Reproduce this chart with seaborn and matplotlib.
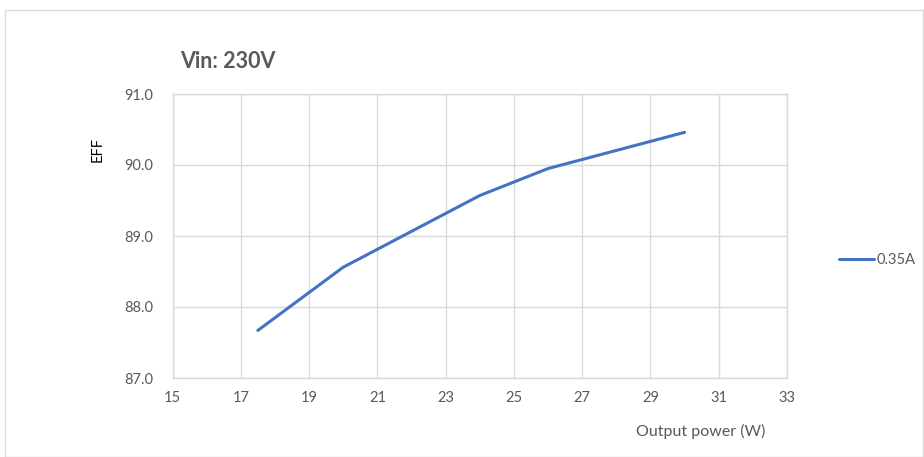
import matplotlib
matplotlib.use("Agg")
import matplotlib.pyplot as plt
import seaborn as sns
import pandas as pd
from matplotlib.patches import Rectangle

# -------------------------------
# Data
# -------------------------------
power_w = [17.5, 20.0, 24.0, 26.0, 30.0]
eff = [87.67, 88.56, 89.57, 89.95, 90.46]
series_name = "0.35A"

x_ticks = [15, 17, 19, 21, 23, 25, 27, 29, 31, 33]
y_ticks = [87.0, 88.0, 89.0, 90.0, 91.0]

data = pd.DataFrame({"power": power_w, "eff": eff})

# -------------------------------
# Style
# -------------------------------
sns.set_theme(style="whitegrid")
plt.rcParams["font.family"] = ["Lato", "DejaVu Sans"]

text_col = "#595959"
grid_col = "#D9D9D9"
line_col = "#4472C4"

W, H = 924, 457
fig = plt.figure(figsize=(W / 100, H / 100), dpi=100)
fig.patch.set_facecolor("white")

# outer chart border
fig.patches.append(Rectangle((5 / W, 0.5 / H), (W - 6) / W, (H - 10) / H,
                             transform=fig.transFigure, fill=False,
                             edgecolor=grid_col, linewidth=1))

ax = fig.add_axes([172.5 / W, 1 - 378 / H, (787 - 172.5) / W, (378 - 94) / H])

sns.lineplot(data=data, x="power", y="eff", ax=ax, color=line_col,
             linewidth=2.2, label=series_name)

ax.set_xlim(15, 33)
ax.set_ylim(87, 91)
ax.set_xticks(x_ticks)
ax.set_yticks(y_ticks)
ax.set_yticklabels([f"{v:.1f}" for v in y_ticks])
ax.set_xlabel("")
ax.set_ylabel("")
ax.grid(True, color=grid_col, linewidth=1)
for s in ax.spines.values():
    s.set_color(grid_col)
    s.set_linewidth(1)
ax.tick_params(axis="both", length=0, labelsize=10.5, labelcolor=text_col)
ax.tick_params(axis="x", pad=9)
ax.tick_params(axis="y", pad=14)

ax.get_legend().remove()
fig.legend(loc="center left", bbox_to_anchor=(839 / W, 1 - 260 / H),
           frameon=False, fontsize=10.5, handlelength=2.4,
           handletextpad=0.2, borderaxespad=0, borderpad=0,
           labelcolor=text_col)

fig.text(180 / W, 1 - 62 / H, "Vin: 230V", fontsize=15.5, fontweight="bold",
         color=text_col, ha="left", va="center")
fig.text(98 / W, 1 - 150 / H, "EFF", fontsize=10.5, color="black",
         rotation=90, ha="center", va="center")
fig.text(701 / W, 1 - 431 / H, "Output power (W)", fontsize=11.5,
         color=text_col, ha="center", va="center")

fig.savefig("out.png", dpi=100)
